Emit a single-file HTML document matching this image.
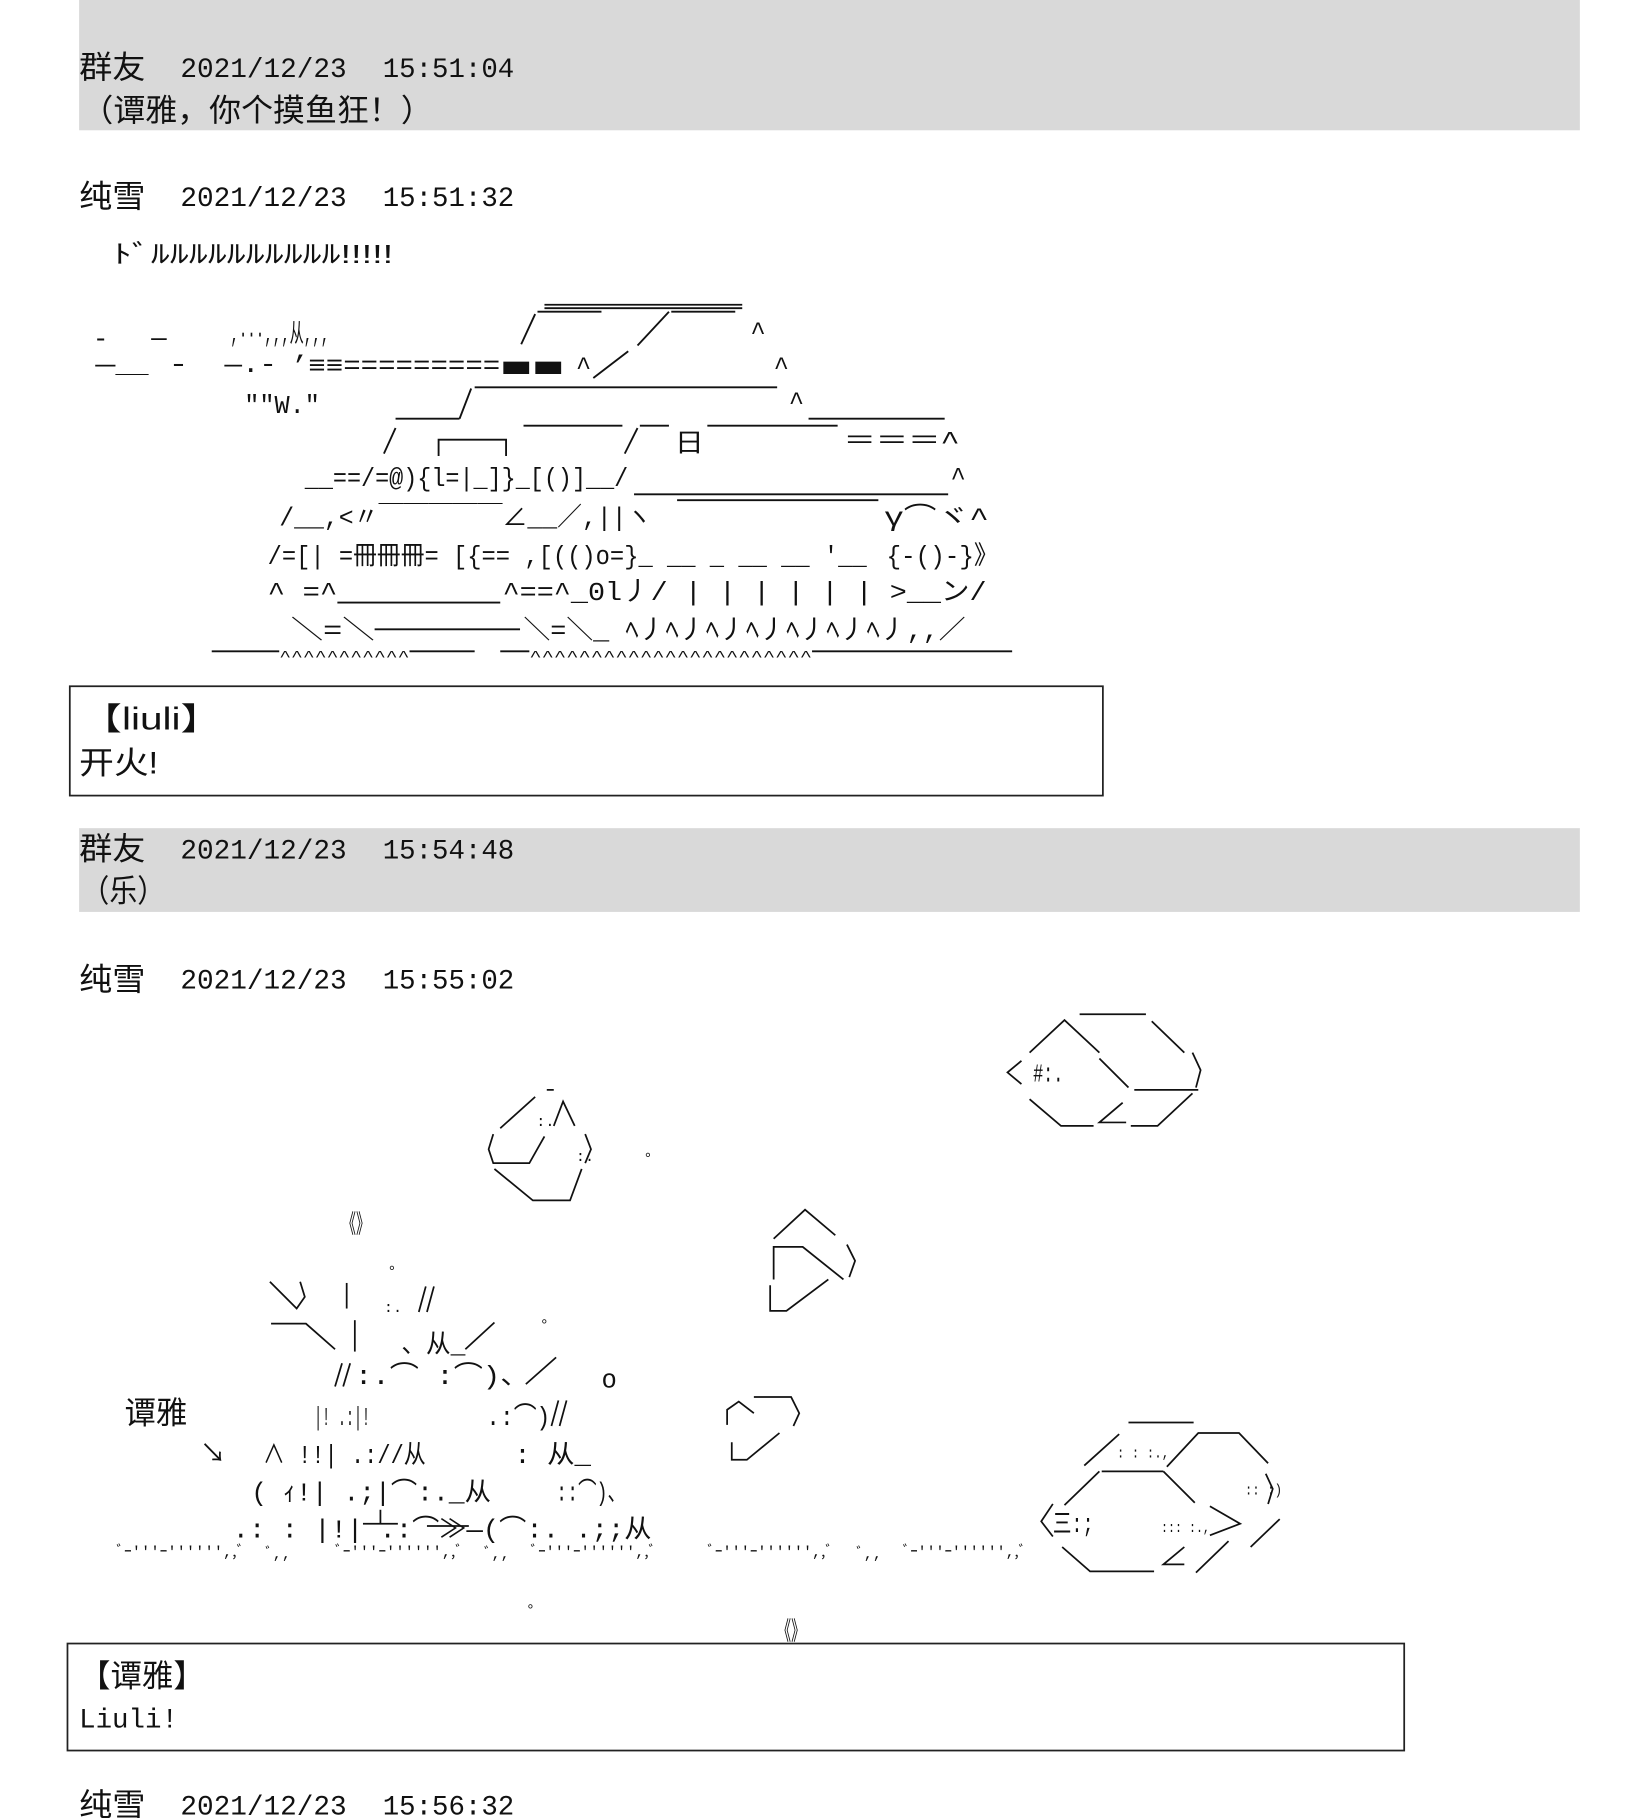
<!DOCTYPE html>
<html><head><meta charset="utf-8"><style>
html,body{margin:0;padding:0;background:#fff;}
svg{display:block;}
text{font-family:"Liberation Mono","Noto Sans CJK SC",monospace;fill:#111;}
.aa{font-family:"Liberation Sans","Noto Sans CJK JP",sans-serif;font-size:22px;}
.cj{font-family:"Liberation Sans","Noto Sans CJK SC",sans-serif;font-size:27px;}
.mn{font-size:24px;}
.g{font-size:13px;}
</style></head><body>
<svg width="1652" height="1818" viewBox="0 0 1420 1563" preserveAspectRatio="none" xmlns="http://www.w3.org/2000/svg">
<rect x="68" y="0" width="1290" height="112" fill="#d9d9d9"/>
<rect x="68" y="712" width="1290" height="72" fill="#d9d9d9"/>
<rect x="60" y="590" width="888" height="94" fill="none" stroke="#222" stroke-width="1.5"/>
<rect x="58" y="1413" width="1149" height="92" fill="none" stroke="#222" stroke-width="1.5"/>

<!-- headers -->
<text class="cj" x="68" y="67" textLength="57" lengthAdjust="spacingAndGlyphs">群友</text>
<text class="mn" x="155" y="66" textLength="143" lengthAdjust="spacingAndGlyphs">2021/12/23</text>
<text class="mn" x="329" y="66" textLength="113" lengthAdjust="spacingAndGlyphs">15:51:04</text>
<text class="cj" x="70" y="104" textLength="302" lengthAdjust="spacingAndGlyphs">（谭雅，你个摸鱼狂！）</text>

<text class="cj" x="68" y="178" textLength="57" lengthAdjust="spacingAndGlyphs">纯雪</text>
<text class="mn" x="155" y="177" textLength="143" lengthAdjust="spacingAndGlyphs">2021/12/23</text>
<text class="mn" x="329" y="177" textLength="113" lengthAdjust="spacingAndGlyphs">15:51:32</text>
<text class="aa" x="97" y="226" textLength="241" lengthAdjust="spacingAndGlyphs">ﾄﾞﾙﾙﾙﾙﾙﾙﾙﾙﾙﾙ!!!!!</text>

<!-- tank -->
<g stroke="#111" stroke-width="1.6" fill="none">
<line x1="468" y1="262" x2="638" y2="262"/><line x1="468" y1="265" x2="638" y2="265"/>
<line x1="448" y1="296" x2="460" y2="270"/><line x1="462" y1="268" x2="517" y2="268"/>
<line x1="548" y1="297" x2="575" y2="268"/><line x1="577" y1="268" x2="632" y2="268"/>
<line x1="510" y1="325" x2="540" y2="302"/>
<line x1="340" y1="360" x2="395" y2="360"/><line x1="395" y1="360" x2="405" y2="334"/><line x1="408" y1="333" x2="668" y2="333"/>
<line x1="695" y1="360" x2="812" y2="360"/>
<line x1="330" y1="390" x2="340" y2="368"/>
<line x1="450" y1="366" x2="535" y2="366"/><line x1="537" y1="390" x2="548" y2="368"/><line x1="550" y1="366" x2="575" y2="366"/>
<line x1="608" y1="366" x2="720" y2="366"/>
<polyline points="377,392 377,378 435,378 435,392"/>
<line x1="545" y1="425" x2="815" y2="425"/>
<line x1="582" y1="430" x2="755" y2="430"/>
<line x1="290" y1="518" x2="430" y2="518"/>
<line x1="322" y1="541" x2="447" y2="541"/>
<line x1="182" y1="560" x2="240" y2="560"/><line x1="352" y1="560" x2="408" y2="560"/><line x1="430" y1="560" x2="455" y2="560"/><line x1="698" y1="560" x2="870" y2="560"/>
</g>
<g class="aa">
<text x="80" y="298">-</text><text x="130" y="297">—</text>
<text x="198" y="294" textLength="85" lengthAdjust="spacingAndGlyphs">,···,,,从,,,</text>
<text x="645" y="292">^</text>
<text x="82" y="320" textLength="80" lengthAdjust="spacingAndGlyphs">—＿ -</text>
<text x="193" y="320" textLength="45" lengthAdjust="spacingAndGlyphs">—.-</text>
<text x="250" y="321" textLength="180" lengthAdjust="spacingAndGlyphs">’≡≡=========</text>
<text x="430" y="323" textLength="55" lengthAdjust="spacingAndGlyphs" style="font-weight:bold">■■</text>
<text x="495" y="322">^</text><text x="665" y="322">^</text>
<text x="210" y="355" textLength="65" lengthAdjust="spacingAndGlyphs">″″W.″</text>
<text x="678" y="352">^</text>
<text x="580" y="388" textLength="25" lengthAdjust="spacingAndGlyphs">日</text>
<text x="725" y="386" textLength="100" lengthAdjust="spacingAndGlyphs">＝＝＝^</text>
<text x="262" y="418" textLength="278" lengthAdjust="spacingAndGlyphs">__==/=@){l=|_]}_[()]__/</text>
<text x="817" y="417">^</text>
<text x="240" y="452" textLength="320" lengthAdjust="spacingAndGlyphs">/__,&lt;〃￣￣￣￣￣∠__／,||ヽ</text>
<text x="760" y="452" textLength="90" lengthAdjust="spacingAndGlyphs">γ⌒ヾ^</text>
<text x="230" y="485" textLength="515" lengthAdjust="spacingAndGlyphs">/=[| =冊冊冊= [{== ,[(()o=}_ __ _ __ __ '__</text>
<text x="762" y="485" textLength="96" lengthAdjust="spacingAndGlyphs">{-()-}》</text>
<text x="230" y="516" textLength="60" lengthAdjust="spacingAndGlyphs">^ =^</text>
<text x="432" y="516" textLength="416" lengthAdjust="spacingAndGlyphs">^==^_0l丿/  |  |  |  |  |  | &gt;__ン/</text>
<text x="250" y="549" textLength="72" lengthAdjust="spacingAndGlyphs">＼=＼</text>
<text x="450" y="549" textLength="380" lengthAdjust="spacingAndGlyphs">＼=＼_ ﾍ丿ﾍ丿ﾍ丿ﾍ丿ﾍ丿ﾍ丿ﾍ丿,,／</text>
<text x="240" y="568" class="g" textLength="112" lengthAdjust="spacingAndGlyphs">^^^^^^^^^^^</text>
<text x="455" y="568" class="g" textLength="243" lengthAdjust="spacingAndGlyphs">^^^^^^^^^^^^^^^^^^^^^^^</text>
</g>

<text class="cj" x="70" y="627" textLength="120" lengthAdjust="spacingAndGlyphs">【liuli】</text>
<text class="cj" x="68" y="665" textLength="68" lengthAdjust="spacingAndGlyphs">开火!</text>

<text class="cj" x="68" y="739" textLength="57" lengthAdjust="spacingAndGlyphs">群友</text>
<text class="mn" x="155" y="738" textLength="143" lengthAdjust="spacingAndGlyphs">2021/12/23</text>
<text class="mn" x="329" y="738" textLength="113" lengthAdjust="spacingAndGlyphs">15:54:48</text>
<text class="cj" x="70" y="775" textLength="72" lengthAdjust="spacingAndGlyphs">（乐）</text>

<text class="cj" x="68" y="851" textLength="57" lengthAdjust="spacingAndGlyphs">纯雪</text>
<text class="mn" x="155" y="850" textLength="143" lengthAdjust="spacingAndGlyphs">2021/12/23</text>
<text class="mn" x="329" y="850" textLength="113" lengthAdjust="spacingAndGlyphs">15:55:02</text>

<!-- explosion shapes -->
<g stroke="#111" stroke-width="1.5" fill="none">
<!-- top right rock -->
<line x1="928" y1="872" x2="985" y2="872"/>
<polyline points="885,905 915,877 945,905"/>
<line x1="990" y1="878" x2="1018" y2="905"/>
<polyline points="878,912 866,922 878,932"/>
<line x1="945" y1="910" x2="970" y2="935"/>
<line x1="975" y1="937" x2="1030" y2="937"/>
<polyline points="1025,905 1032,920 1028,935"/>
<polyline points="885,945 912,968 940,968"/>
<polyline points="965,948 945,965 968,965"/>
<polyline points="972,968 995,968 1025,940"/>
<!-- rock 2 -->
<line x1="470" y1="937" x2="476" y2="937"/>
<line x1="430" y1="970" x2="460" y2="943"/>
<polyline points="476,968 484,947 494,968"/>
<polyline points="424,975 420,988 424,1000 455,1000 468,977"/>
<polyline points="503,975 508,988 503,1000"/>
<polyline points="425,1005 458,1032 490,1032 500,1005"/>
<!-- rock 3 -->
<polyline points="665,1065 692,1040 718,1062"/>
<polyline points="665,1100 665,1072 690,1072 725,1100"/>
<polyline points="728,1070 735,1084 730,1098"/>
<polyline points="662,1105 662,1127 676,1127 712,1100"/>
<!-- small rock r< -->
<polyline points="625,1225 625,1212 635,1205 648,1215"/>
<polyline points="648,1201 680,1201 687,1215 682,1226"/>
<polyline points="629,1240 629,1255 642,1255 670,1232"/>
<!-- bottom right rock -->
<line x1="970" y1="1223" x2="1026" y2="1223"/>
<line x1="932" y1="1260" x2="962" y2="1233"/>
<polyline points="1003,1261 1030,1232 1065,1232 1090,1258"/>
<line x1="915" y1="1294" x2="945" y2="1265"/>
<line x1="947" y1="1265" x2="1000" y2="1265"/>
<line x1="1000" y1="1265" x2="1027" y2="1292"/>
<polyline points="1088,1267 1094,1280 1090,1293"/>
<polyline points="905,1293 895,1308 905,1321"/>
<polyline points="1040,1295 1066,1310 1040,1320"/>
<line x1="1075" y1="1330" x2="1100" y2="1306"/>
<polyline points="913,1330 937,1351 992,1351"/>
<polyline points="1018,1330 1000,1345 1018,1345"/>
<line x1="1028" y1="1352" x2="1056" y2="1325"/>
<!-- explosion strokes -->
<polyline points="232,1102 255,1125 262,1115 258,1102"/>
<line x1="298" y1="1103" x2="298" y2="1125"/>
<line x1="360" y1="1128" x2="366" y2="1106"/><line x1="367" y1="1128" x2="373" y2="1106"/>
<polyline points="233,1138 263,1138 288,1160"/>
<line x1="305" y1="1135" x2="305" y2="1162"/>
<line x1="400" y1="1160" x2="425" y2="1137"/>
<line x1="452" y1="1190" x2="478" y2="1167"/>
<line x1="288" y1="1192" x2="294" y2="1172"/><line x1="295" y1="1192" x2="301" y2="1172"/>
<line x1="474" y1="1226" x2="480" y2="1204"/><line x1="481" y1="1226" x2="487" y2="1204"/>
<line x1="312" y1="1310" x2="342" y2="1310"/><line x1="327" y1="1298" x2="327" y2="1310"/>
<line x1="367" y1="1312" x2="403" y2="1312"/>
</g>
<g class="aa">
<text x="888" y="930" textLength="26" lengthAdjust="spacingAndGlyphs">#:.</text>
<text x="461" y="968" class="g">:.</text><text x="495" y="998" class="g">:.</text>
<text x="553" y="1000" class="g">°</text>
<text x="294" y="1060" textLength="24" lengthAdjust="spacingAndGlyphs">《》</text>
<text x="333" y="1097" class="g">°</text>
<text x="330" y="1128" class="g">:.</text>
<text x="464" y="1143" class="g">°</text>
<text x="345" y="1163" textLength="55" lengthAdjust="spacingAndGlyphs">、从_</text>
<text x="305" y="1190" textLength="150" lengthAdjust="spacingAndGlyphs">:.⌒    :⌒)、</text>
<text x="517" y="1193">o</text>
<text x="107" y="1224" class="cj" textLength="54" lengthAdjust="spacingAndGlyphs">谭雅</text>
<text x="270" y="1225" textLength="48" lengthAdjust="spacingAndGlyphs">|! .:|!</text>
<text x="418" y="1225" textLength="55" lengthAdjust="spacingAndGlyphs">.:⌒)</text>
<text x="172" y="1257" textLength="22" lengthAdjust="spacingAndGlyphs">↘</text>
<text x="226" y="1258" textLength="140" lengthAdjust="spacingAndGlyphs">∧ !!|  .://从</text>
<text x="442" y="1258" textLength="66" lengthAdjust="spacingAndGlyphs">:  从_</text>
<text x="216" y="1290" textLength="206" lengthAdjust="spacingAndGlyphs">(   ｨ!|  .;|⌒:._从</text>
<text x="478" y="1290" textLength="60" lengthAdjust="spacingAndGlyphs">::⌒)、</text>
<text x="200" y="1322" textLength="360" lengthAdjust="spacingAndGlyphs">.:  : |!|   .:⌒≫—(⌒:.      .;;从</text>
<text x="960" y="1253" class="g" textLength="45" lengthAdjust="spacingAndGlyphs">: : :.,</text>
<text x="1070" y="1285" class="g" textLength="32" lengthAdjust="spacingAndGlyphs">:: :)</text>
<text x="905" y="1317" textLength="35" lengthAdjust="spacingAndGlyphs">三:;</text>
<text x="998" y="1317" class="g" textLength="42" lengthAdjust="spacingAndGlyphs">::: :.,</text>
<g class="g">
<text x="100" y="1338" textLength="110" lengthAdjust="spacingAndGlyphs">ﾞｰ'''ｰ'''''',,ﾞ</text>
<text x="228" y="1340">ﾞ,,</text>
<text x="288" y="1338" textLength="110" lengthAdjust="spacingAndGlyphs">ﾞｰ'''ｰ'''''',,ﾞ</text>
<text x="416" y="1340">ﾞ,,</text>
<text x="456" y="1338" textLength="108" lengthAdjust="spacingAndGlyphs">ﾞｰ'''ｰ'''''',,ﾞ</text>
<text x="608" y="1338" textLength="108" lengthAdjust="spacingAndGlyphs">ﾞｰ'''ｰ'''''',,ﾞ</text>
<text x="736" y="1340">ﾞ,,</text>
<text x="776" y="1338" textLength="106" lengthAdjust="spacingAndGlyphs">ﾞｰ'''ｰ'''''',,ﾞ</text>
<text x="452" y="1388">°</text>
</g>
<text x="668" y="1410" textLength="24" lengthAdjust="spacingAndGlyphs">《》</text>
</g>

<text class="cj" x="68" y="1450" textLength="108" lengthAdjust="spacingAndGlyphs">【谭雅】</text>
<text class="mn" x="68" y="1485" textLength="85" lengthAdjust="spacingAndGlyphs">Liuli!</text>

<text class="cj" x="68" y="1561" textLength="57" lengthAdjust="spacingAndGlyphs">纯雪</text>
<text class="mn" x="155" y="1560" textLength="143" lengthAdjust="spacingAndGlyphs">2021/12/23</text>
<text class="mn" x="329" y="1560" textLength="113" lengthAdjust="spacingAndGlyphs">15:56:32</text>
</svg>
</body></html>
